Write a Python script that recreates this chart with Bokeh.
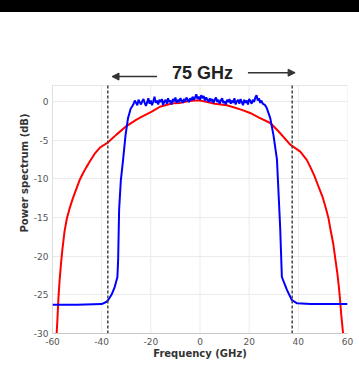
from bokeh.plotting import figure
from bokeh.models import Label, Arrow, NormalHead, Range1d, FixedTicker, Div
from bokeh.layouts import column
from bokeh.embed import file_html
from bokeh.resources import INLINE

# ---- data ----
# blue: measured spectrum, edges + floors
blue_left_x = [-60, -50, -40, -38, -37.4, -36, -34.7, -33.6, -33.3, -32.9, -32.2, -31.3, -30.3, -29.3, -28.2]
blue_left_y = [-26.3, -26.3, -26.2, -25.9, -25.7, -25.0, -24.0, -22.7, -20.5, -14.0, -10.2, -7.6, -4.4, -2.2, -0.95]
# blue: flat top (noisy)
blue_top_x = [-27.5, -27, -26.5, -26, -25.5, -25, -24.5, -24, -23.5, -23,
              -22.5, -22, -21.5, -21, -20.5, -20, -19.5, -19, -18.5, -18,
              -17.5, -17, -16.5, -16, -15.5, -15, -14.5, -14, -13.5, -13,
              -12.5, -12, -11.5, -11, -10.5, -10, -9.5, -9, -8.5, -8,
              -7.5, -7, -6.5, -6, -5.5, -5, -4.5, -4, -3.5, -3,
              -2.5, -2, -1.5, -1, -0.5, 0, 0.5, 1, 1.5, 2,
              2.5, 3, 3.5, 4, 4.5, 5, 5.5, 6, 6.5, 7,
              7.5, 8, 8.5, 9, 9.5, 10, 10.5, 11, 11.5, 12,
              12.5, 13, 13.5, 14, 14.5, 15, 15.5, 16, 16.5, 17,
              17.5, 18, 18.5, 19, 19.5, 20, 20.5, 21, 21.5, 22,
              22.5, 23, 23.5, 24, 24.5, 25, 25.5]
blue_top_y = [-0.6, -0.3, 0.1, -0.2, -0.5, 0.2, -0.1, -0.4, 0.0, 0.3,
              -0.2, -0.6, -0.1, 0.4, -0.3, 0.1, -0.5, 0.0, 0.6, -0.2,
              0.1, -0.4, 0.2, -0.1, 0.3, -0.5, 0.0, 0.2, -0.3, 0.4,
              -0.1, 0.1, -0.4, 0.3, 0.0, 0.5, -0.2, 0.2, -0.1, 0.4,
              0.1, -0.2, 0.3, 0.0, 0.5, 0.2, -0.1, 0.4, 0.1, 0.6,
              0.2, 0.5, 0.9, 0.3, 0.6, 0.2, 0.8, 0.4, 0.7, 0.1,
              0.5, 0.2, -0.1, 0.4, 0.0, 0.3, -0.2, 0.2, 0.5, -0.1,
              0.2, -0.3, 0.1, 0.4, -0.2, 0.0, -0.4, 0.2, -0.1, 0.3,
              -0.3, 0.1, -0.2, 0.4, -0.4, 0.0, 0.2, -0.3, 0.3, -0.1,
              -0.5, 0.2, -0.2, 0.1, -0.4, 0.3, 0.0, -0.3, 0.2, -0.1,
              0.5, 0.8, 0.1, 0.4, -0.2, 0.1, -0.3]
blue_right_x = [26.5, 27.2, 28.6, 29.9, 31.3, 32.6, 33.3, 35.4, 37.4, 39.5, 45, 50, 60]
blue_right_y = [-0.5, -0.9, -2.2, -4.4, -7.5, -16.2, -22.7, -24.4, -25.7, -26.1, -26.2, -26.2, -26.2]

# red: reference / simulated spectrum
red_x = [-58.4, -58.3, -58.0, -57.6, -57.1, -56.6, -56.0, -55.1, -54.2, -53.1, -51.8, -50.3, -49.0, -47.6,
         -46.2, -44.9, -42.9, -40.8, -37.4, -34, -29.9, -26, -23.8, -20, -18.4, -16.3, -13, -11, -8, -5, -2,
         0, 3, 6, 10.9, 14, 17, 20.4, 24, 28.6, 32, 36.7, 40.8, 43.5, 44.9, 46.5, 48.3, 49.8, 51, 52.2,
         53.1, 54.2, 55.1, 55.9, 56.5, 57.0, 57.4, 57.8, 58.2, 58.3]
red_y = [-31, -30, -28.2, -25.5, -23.1, -21.2, -19.2, -16.8, -15.2, -13.9, -12.6, -11.3, -10.2, -9.3,
         -8.5, -7.8, -6.8, -6.0, -5.3, -4.3, -3.2, -2.4, -2.0, -1.4, -1.1, -0.7, -0.4, -0.25, -0.2, 0.0, 0.1,
         0.1, -0.1, -0.3, -0.5, -0.8, -1.1, -1.5, -2.1, -2.8, -3.9, -5.6, -6.5, -7.6, -8.5, -9.6, -11.1, -12.3, -13.6, -15.0,
         -16.6, -18.4, -20.5, -22.3, -24.0, -25.7, -27.4, -28.7, -30, -31]

x_ticks = [-60, -40, -20, 0, 20, 40, 60]
y_ticks = [-30, -25, -20, -15, -10, -5, 0]
band_edges = [-37.5, 37.5]
title_text = "75 GHz"

blue_x = blue_left_x + blue_top_x + blue_right_x
blue_y = blue_left_y + blue_top_y + blue_right_y

Y_TOP = 2.05      # top of the plotting box
Y_MAX = 11.48     # figure extends above the box for the annotation

band = Div(width=359, height=12, margin=(0, 0, 0, 0), styles={"background-color": "black"})

p = figure(width=359, height=357, output_backend="svg", toolbar_location=None,
           x_range=Range1d(-60, 60), y_range=Range1d(-30, Y_MAX),
           min_border_left=52, min_border_right=12, min_border_top=0, min_border_bottom=36)

p.background_fill_color = "white"
p.border_fill_color = "white"
p.outline_line_color = None

p.xaxis.ticker = FixedTicker(ticks=x_ticks)
p.yaxis.ticker = FixedTicker(ticks=y_ticks)
p.xaxis.major_label_overrides = {t: str(t) for t in x_ticks}
p.yaxis.major_label_overrides = {t: str(t) for t in y_ticks}
for ax in (p.xaxis[0], p.yaxis[0]):
    ax.major_tick_line_color = None
    ax.minor_tick_line_color = None
    ax.major_tick_out = 0
    ax.major_tick_in = 0
    ax.minor_tick_out = 0
    ax.minor_tick_in = 0
    ax.major_label_text_font = "DejaVu Sans"
    ax.major_label_text_font_size = "9px"
    ax.major_label_text_color = "#555555"
    ax.axis_label_text_font = "DejaVu Sans"
    ax.axis_label_text_font_size = "10px"
    ax.axis_label_text_font_style = "bold"
    ax.axis_label_text_color = "#333333"
p.xaxis.axis_line_color = "#c8c8c8"
p.yaxis.axis_line_color = None
p.xaxis.major_label_standoff = 4
p.yaxis.major_label_standoff = 4
p.xaxis.axis_label = "Frequency (GHz)"
p.yaxis.axis_label = "Power spectrum (dB)"
p.xaxis.axis_label_standoff = 0
p.yaxis.axis_label_standoff = 1

p.xgrid.visible = False
p.ygrid.grid_line_color = "#ebebeb"

n = len(x_ticks)
# vertical grid lines limited to the plotting box
p.segment(x0=x_ticks, y0=[-30] * n, x1=x_ticks, y1=[Y_TOP] * n, line_color="#ebebeb", line_width=1)
# top edge of the box
p.segment(x0=[x_ticks[0]], y0=[Y_TOP], x1=[x_ticks[-1]], y1=[Y_TOP], line_color="#e6e6e6", line_width=1)
# left axis line
p.segment(x0=[x_ticks[0]], y0=[-30], x1=[x_ticks[0]], y1=[Y_TOP], line_color="#c8c8c8", line_width=1)

p.line(red_x, red_y, line_color="#ff0000", line_width=2)
p.line(blue_x, blue_y, line_color="#0000ff", line_width=2)

p.segment(x0=band_edges, y0=[-30, -30], x1=band_edges, y1=[Y_TOP, Y_TOP],
          line_color="#444444", line_width=1.5, line_dash="3 2")

p.add_layout(Label(x=1.0, y=3.6, text=title_text, text_align="center", text_baseline="middle",
                   text_font="Liberation Sans", text_font_style="bold", text_font_size="18px",
                   text_color="#222222"))
p.add_layout(Arrow(x_start=-17.5, y_start=3.2, x_end=-35.8, y_end=3.2,
                   line_color="#333333", line_width=1.5,
                   end=NormalHead(size=7, fill_color="#333333", line_color="#333333")))
p.add_layout(Arrow(x_start=19.5, y_start=3.7, x_end=38.7, y_end=3.7,
                   line_color="#333333", line_width=1.5,
                   end=NormalHead(size=7, fill_color="#333333", line_color="#333333")))

layout = column(band, p, spacing=0)
open("out.html", "w").write(file_html(layout, INLINE))
